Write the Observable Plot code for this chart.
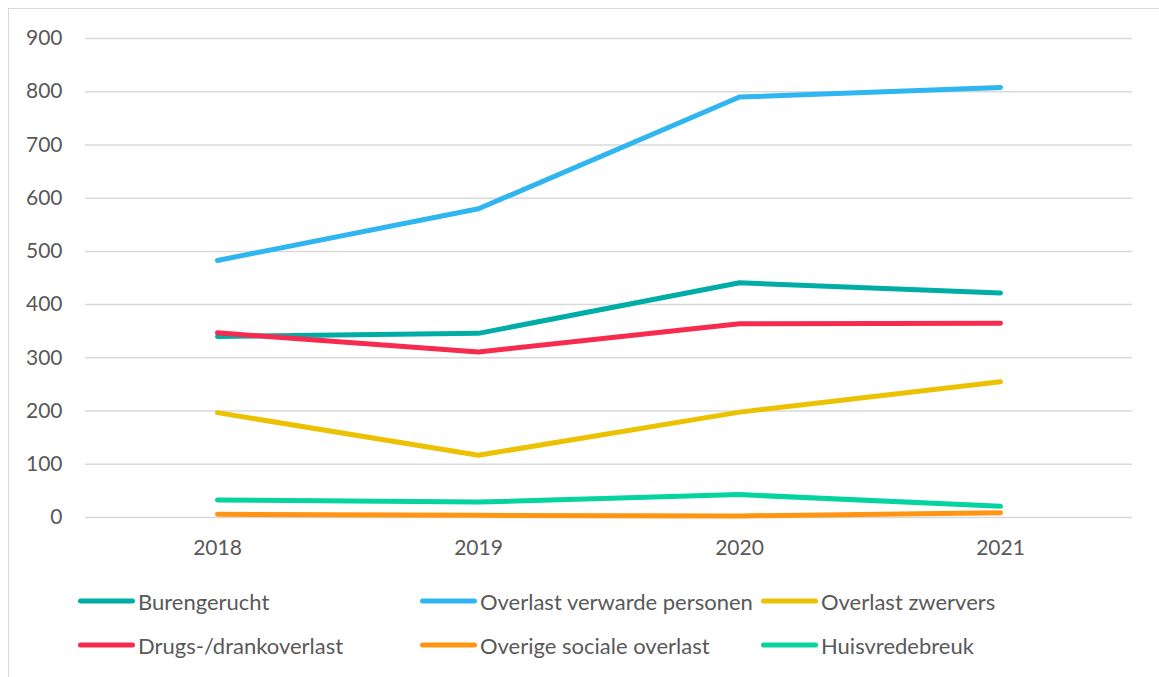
<!DOCTYPE html>
<html>
<head>
<meta charset="utf-8">
<script src="https://cdn.jsdelivr.net/npm/d3@7"></script>
<script src="https://cdn.jsdelivr.net/npm/@observablehq/plot@0.6"></script>
<style>
  html, body { margin: 0; padding: 0; background: #fff; overflow: hidden; }
  body { width: 1159px; height: 677px; position: relative; font-family: Lato, "Open Sans", sans-serif; }
  #frame { position: absolute; left: 8px; top: 8px; width: 1200px; height: 800px; border: 1.5px solid #d9d9d9; box-sizing: border-box; }
  #chart { position: absolute; left: 0; top: 0; }
  #legend { position: absolute; left: 0; top: 0; width: 1159px; height: 677px; }
  .item { position: absolute; display: flex; align-items: center; font-size: 22px; color: #595959; white-space: nowrap; transform: translateY(-50%); }
  .sw { width: 57px; height: 5px; border-radius: 3px; margin-right: 3px; }
</style>
</head>
<body>
<div id="frame"></div>
<div id="chart"></div>
<div id="legend"></div>
<script>
const years = ["2018", "2019", "2020", "2021"];
const seriesNames = ["Burengerucht", "Overlast verwarde personen", "Overlast zwervers", "Drugs-/drankoverlast", "Overige sociale overlast", "Huisvredebreuk"];
const seriesColors = ["#00ADA6", "#2FB5F0", "#EBC100", "#F72A50", "#FF9512", "#05D3A0"];
const burengerucht = [340, 346, 441, 422];
const verwardePersonen = [483, 580, 790, 808];
const zwervers = [197, 117, 198, 255];
const drugsDrank = [347, 311, 364, 365];
const overigeSociale = [6, 4, 3, 9];
const huisvredebreuk = [33, 29, 43, 21];
const yTicks = [0, 100, 200, 300, 400, 500, 600, 700, 800, 900];

const seriesValues = [burengerucht, verwardePersonen, zwervers, drugsDrank, overigeSociale, huisvredebreuk];
const data = [];
seriesNames.forEach((name, i) => {
  years.forEach((yr, j) => data.push({series: name, year: yr, value: seriesValues[i][j]}));
});

const chart = Plot.plot({
  width: 1159,
  height: 560,
  marginLeft: 85,
  marginRight: 27,
  marginTop: 38,
  marginBottom: 43,
  style: {fontFamily: "Lato, 'Open Sans', sans-serif", fontSize: "21px", color: "#595959", background: "transparent"},
  x: {type: "point", domain: years, padding: 0.5, label: null},
  y: {domain: [0, 900], label: null},
  color: {domain: seriesNames, range: seriesColors},
  marks: [
    Plot.gridY(yTicks, {stroke: "#d9d9d9", strokeOpacity: 1, strokeWidth: 1.5}),
    Plot.axisY(yTicks, {tickSize: 0, tickPadding: 23, fill: "#595959", label: null}),
    Plot.axisX({tickSize: 0, tickPadding: 23, fill: "#595959", label: null}),
    Plot.line(data, {x: "year", y: "value", z: "series", stroke: "series", strokeWidth: 5, strokeLinecap: "round", strokeLinejoin: "round"})
  ]
});
document.getElementById("chart").appendChild(chart);

const legend = document.getElementById("legend");
const colX = [78, 420, 761];
const rowY = [601, 645];
seriesNames.forEach((name, i) => {
  const it = document.createElement("div");
  it.className = "item";
  it.style.left = colX[i % 3] + "px";
  it.style.top = rowY[Math.floor(i / 3)] + "px";
  const sw = document.createElement("div");
  sw.className = "sw";
  sw.style.background = seriesColors[i];
  const tx = document.createElement("span");
  tx.textContent = name;
  it.appendChild(sw);
  it.appendChild(tx);
  legend.appendChild(it);
});
</script>
</body>
</html>
